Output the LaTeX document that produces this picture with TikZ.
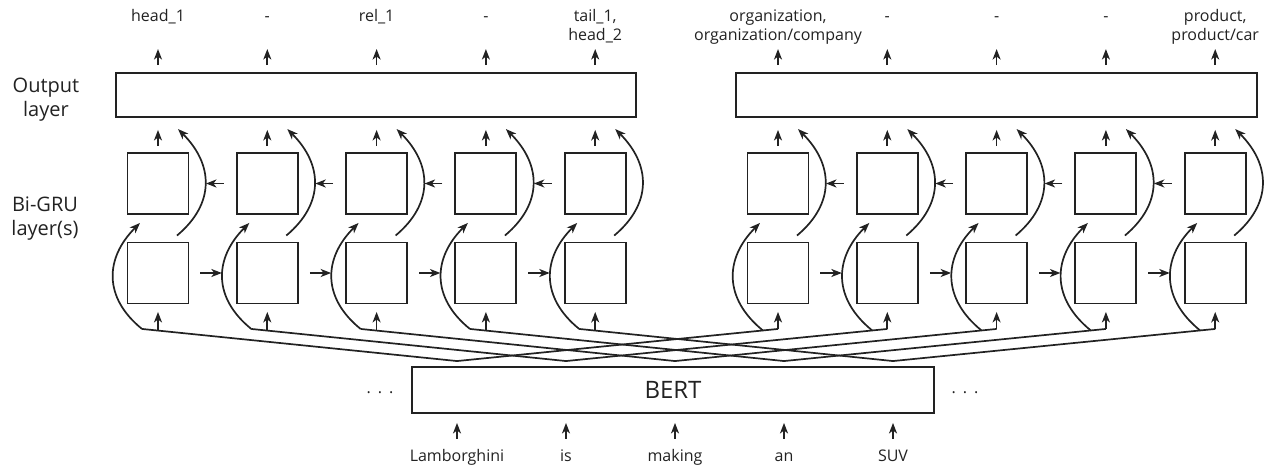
\documentclass[tikz,border=0pt]{standalone}
\usepackage{fontspec}
\setmainfont{Open Sans}
\usetikzlibrary{arrows.meta,calc}

\definecolor{ink}{HTML}{222222}

\begin{document}
\begin{tikzpicture}[
  x=1pt, y=1pt, color=ink, line width=1.7pt,
  cell/.style={rectangle, draw, line width=1.9pt, minimum size=61pt, inner sep=0pt},
  layer/.style={rectangle, draw, line width=1.9pt, inner sep=0pt, minimum height=44pt},
  arr/.style={-{Stealth[length=10.5pt,width=8pt,inset=3pt]}, line width=1.7pt},
  lbl/.style={font=\fontsize{16}{19}\selectfont, align=center, inner sep=0pt},
  side/.style={font=\fontsize{20}{24}\selectfont, align=center, inner sep=0pt}]
\useasboundingbox (0,0) rectangle (1265,466);
\coordinate (labtop) at (0,458.3);

% side labels
\node[side] (outlab) at (46,366) {Output\\layer};
\node[side] (grulab) at (45,247.5) {Bi-GRU\\layer(s)};

% output layers
\node[layer, minimum width=520pt] (outl) at (376,371) {};
\node[layer, minimum width=521pt] (outr) at (996.5,371) {};

% BERT and the tokens
\node[layer, minimum width=522pt, minimum height=46pt,
      font=\fontsize{24}{28}\selectfont] (bert) at (673,76) {BERT};
\node[lbl] (dotsl) at (380,73) {.\hspace{7pt}.\hspace{7pt}.};
\node[lbl] (dotsr) at (965,73) {.\hspace{7pt}.\hspace{7pt}.};
\foreach \k/\w in {1/Lamborghini, 2/is, 3/making, 4/an, 5/SUV} {
  \node[lbl, anchor=base] (tok\k) at ({457+109*(\k-1)},5) {\w};
  \draw[arr] ($(tok\k |- bert.south)+(0,-25)$) -- ($(tok\k |- bert.south)+(0,-9)$);
  \coordinate (p\k) at ($(tok\k |- bert.north)+(0,5)$);
}

% Bi-GRU cells (b = forward row, t = backward row)
\foreach \g/\xo in {l/158, r/778} {
  \foreach \i in {1,...,5} {
    \pgfmathsetmacro\xc{\xo+109.3*(\i-1)}
    \node[cell] (\g b\i) at (\xc,193) {};
    \node[cell] (\g t\i) at (\xc,282.5) {};
  }
}

% left block
\foreach \i in {1,...,5} {
  \coordinate (lj\i) at ($(lb\i.south)+(-16,-24.5)$);
  \draw (p\i) -- (lj\i);
  \draw[arr] ($(lb\i.south)+(0,-26.3)$) -- ($(lb\i.south)+(0,-7.5)$);
  \draw[arr] (lj\i) to[out=141, in=225, looseness=1.2] ($(lt\i.south)+(-18,-8)$);
  \draw[arr] ($(lb\i.north)+(19,6)$) to[out=40, in=-45, looseness=1.2] ($(lt\i.north)+(20,23)$);
  \draw[arr] ($(lt\i.north)+(0,6)$) -- ($(outl.south -| lt\i)+(0,-12)$);
  \draw[arr] ($(outl.north -| lt\i)+(0,7)$) -- ($(outl.north -| lt\i)+(0,23)$);
}
\foreach \i/\j in {1/2, 2/3, 3/4, 4/5} {
  \draw[arr] ($(lb\i.east)+(11,0)$) -- ($(lb\j.west)+(-14,0)$);
  \draw[arr] ($(lt\j.west)+(-12,0)$) -- ($(lt\i.east)+(16.5,0)$);
}

% right block
\foreach \i in {1,...,5} {
  \coordinate (ra\i) at ($(rb\i.south)+(0,-24.5)$);
  \coordinate (rj\i) at ($(rb\i.south)+(-15,-26.1)$);
  \draw (p\i) -- (ra\i);
  \draw[arr] (ra\i) -- ($(rb\i.south)+(0,-7.5)$);
  \draw[arr] (rj\i) to[out=141, in=225, looseness=1.2] ($(rt\i.south)+(-18,-8)$);
  \draw[arr] ($(rb\i.north)+(19,6)$) to[out=40, in=-45, looseness=1.2] ($(rt\i.north)+(20,23)$);
  \draw[arr] ($(rt\i.north)+(0,6)$) -- ($(outr.south -| rt\i)+(0,-12)$);
  \draw[arr] ($(outr.north -| rt\i)+(0,7)$) -- ($(outr.north -| rt\i)+(0,23)$);
}
\foreach \i/\j in {1/2, 2/3, 3/4, 4/5} {
  \draw[arr] ($(rb\i.east)+(11,0)$) -- ($(rb\j.west)+(-14,0)$);
  \draw[arr] ($(rt\j.west)+(-12,0)$) -- ($(rt\i.east)+(16.5,0)$);
}

% predicted tags
\foreach \i/\t in {1/head\_1, 2/-, 3/rel\_1, 4/-, 5/{tail\_1,\\head\_2}}
  \node[lbl, anchor=north] (tagl\i) at (lt\i |- labtop) {\strut\t};
\foreach \i/\t in {1/{organization,\\organization/company}, 2/-, 3/-, 4/-, 5/{product,\\product/car}}
  \node[lbl, anchor=north] (tagr\i) at (rt\i |- labtop) {\strut\t};
\end{tikzpicture}
\end{document}
